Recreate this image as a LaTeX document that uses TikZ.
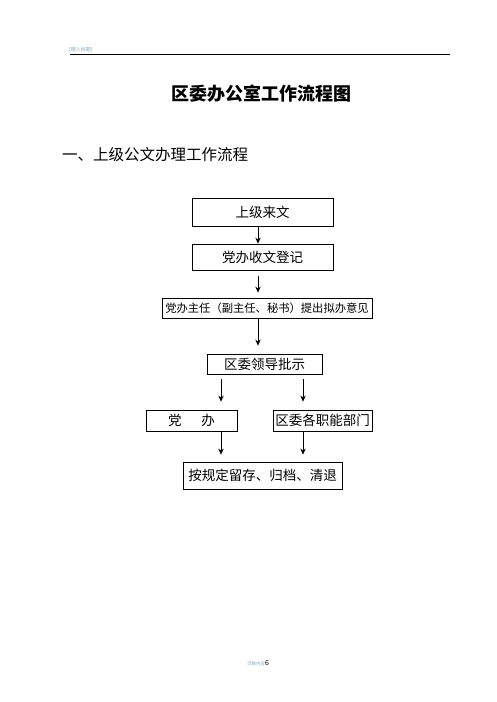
\documentclass[tikz,border=0pt]{standalone}
\usepackage{fontspec}
\setmainfont{Noto Sans CJK SC}
\usepackage{xcolor}
\usetikzlibrary{arrows.meta}
\definecolor{headgray}{HTML}{8FA3B3}

\begin{document}
\begin{tikzpicture}[x=1pt, y=-1pt, >={Stealth[length=6pt, width=5.5pt]},
        flowbox/.style={rectangle, draw=black, line width=0.8pt, inner sep=0pt, font=\fontsize{13.5}{16}\selectfont},
        flowarrow/.style={->, line width=0.8pt}]
            \useasboundingbox (0,0) rectangle (496,702);

            % page header and footer
            \node[anchor=south west, inner sep=0pt, text=headgray, font=\fontsize{5}{6}\selectfont] (head) at (69,53) {[键入标题]};
            \draw[line width=0.9pt] (70,54) -- (450,54);
            \node[inner sep=0pt, font=\fontsize{4.5}{6}\selectfont] (foot) at (258,663) {\textcolor{headgray}{页脚内容}{\fontsize{7}{8}\selectfont 6}};

            \node[inner sep=0pt, font=\fontsize{18}{22}\selectfont\bfseries] (title) at (261.5,94) {区委办公室工作流程图};
            \node[anchor=west, inner sep=0pt, font=\fontsize{15.5}{18}\selectfont] (sub) at (62,155) {一、上级公文办理工作流程};

            \node[flowbox, minimum width=141pt, minimum height=28pt] (b1) at (262.5,212) {上级来文};
            \node[flowbox, minimum width=141pt, minimum height=26pt] (b2) at (262.5,257) {党办收文登记};
            \node[flowbox, minimum width=210pt, minimum height=20pt, font=\fontsize{11.3}{14}\selectfont] (b3) at (267,308) {党办主任（副主任、秘书）提出拟办意见};
            \node[flowbox, minimum width=115pt, minimum height=20pt] (b4) at (264.5,364) {区委领导批示};
            \node[flowbox, minimum width=91pt, minimum height=21pt] (b5) at (191.5,420.5) {党\hspace{20pt}办\hspace{9pt}};
            \node[flowbox, minimum width=99pt, minimum height=21pt] (b6) at (322.5,420.5) {区委各职能部门};
            \node[flowbox, minimum width=159pt, minimum height=27pt] (b7) at (262.5,475.5) {按规定留存、归档、清退};

            \coordinate (am) at (258,0);
            \coordinate (al) at (221,0);
            \coordinate (ar) at (303,0);

            \draw[flowarrow] (b1.south -| am) -- (b2.north -| am);
            \draw[flowarrow, shorten <=6pt, shorten >=5pt] (b2.south -| am) -- (b3.north -| am);
            \draw[flowarrow, shorten >=8pt] (b3.south -| am) -- (b4.north -| am);

            \draw[flowarrow, shorten <=5pt, shorten >=8pt] (b4.south -| al) -- (b5.north -| al);
            \draw[flowarrow, shorten <=5pt, shorten >=8pt] (b4.south -| ar) -- (b6.north -| ar);

            \draw[flowarrow, shorten >=7pt] (b5.south -| al) -- (b7.north -| al);
            \draw[flowarrow, shorten >=7pt] (b6.south -| ar) -- (b7.north -| ar);
        \end{tikzpicture}
\end{document}
